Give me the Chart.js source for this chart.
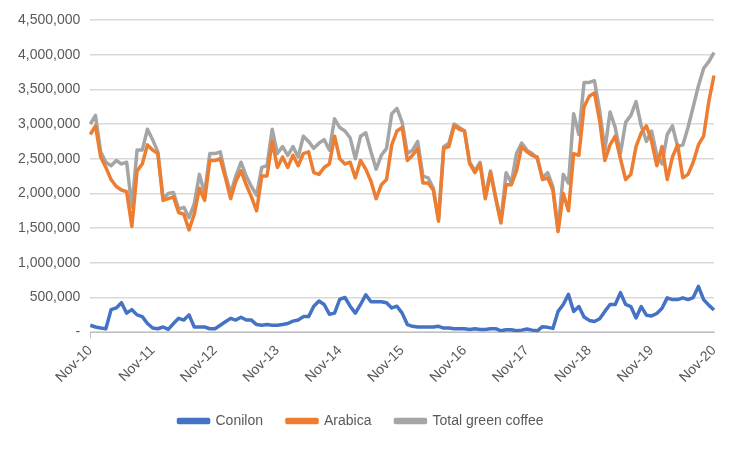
<!DOCTYPE html>
<html>
<head>
<meta charset="utf-8">
<script src="https://cdn.jsdelivr.net/npm/chart.js@4"></script>
<style>
  body { margin: 0; background: #fff; }
  #wrap { width: 752px; height: 452px; }
</style>
</head>
<body>
<div id="wrap"><canvas id="chart"></canvas></div>
<script>
// ### DATA (thousands of bags, monthly Nov-10 .. Nov-20) ###
const monthNames = ['Jan','Feb','Mar','Apr','May','Jun','Jul','Aug','Sep','Oct','Nov','Dec'];
const months = [];
for (let i = 0; i < 121; i++) {
    const m = (10 + i) % 12;
    const y = 10 + Math.floor((10 + i) / 12);
    months.push(monthNames[m] + '-' + y);
}

const conilon = [
    100, 75, 60, 50, 325, 350, 425, 275, 325, 250, 225, 125, 60, 50, 75, 40, 125, 200, 175, 250,
    75, 75, 75, 50, 50, 100, 150, 200, 175, 215, 175, 175, 110, 100, 110, 100, 100, 110, 125, 160,
    175, 225, 225, 375, 450, 400, 260, 275, 475, 500, 375, 275, 400, 540, 440, 440, 440, 425, 350, 375,
    275, 110, 85, 75, 75, 75, 75, 85, 60, 60, 50, 50, 50, 40, 50, 40, 40, 50, 50, 20,
    35, 35, 20, 30, 45, 30, 20, 80, 70, 55, 300, 400, 545, 300, 370, 220, 170, 155, 195, 300,
    400, 400, 570, 400, 370, 205, 370, 245, 235, 270, 345, 495, 470, 470, 495, 470, 500, 660, 470, 390,
    320
];

const arabica = [
    2850, 2975, 2525, 2375, 2200, 2100, 2050, 2025, 1525, 2325, 2425, 2700, 2625, 2575, 1900, 1925, 1950, 1725, 1700, 1475,
    1700, 2075, 1900, 2475, 2475, 2500, 2225, 1925, 2175, 2325, 2125, 1950, 1750, 2250, 2250, 2750, 2375, 2525, 2375, 2550,
    2400, 2575, 2600, 2300, 2275, 2375, 2425, 2825, 2500, 2425, 2450, 2225, 2475, 2350, 2175, 1925, 2125, 2200, 2700, 2900,
    2950, 2475, 2550, 2650, 2150, 2150, 2050, 1600, 2650, 2675, 2975, 2925, 2900, 2425, 2300, 2425, 1925, 2300, 1925, 1575,
    2125, 2125, 2325, 2675, 2600, 2550, 2525, 2200, 2225, 2050, 1450, 2000, 1750, 2575, 2550, 3250, 3400, 3450, 3050, 2475,
    2700, 2825, 2500, 2200, 2275, 2675, 2875, 2975, 2750, 2400, 2675, 2200, 2525, 2700, 2225, 2275, 2450, 2700, 2825, 3325,
    3700
];

const total = [
    3000, 3125, 2600, 2450, 2400, 2475, 2425, 2450, 1800, 2625, 2625, 2925, 2775, 2600, 1925, 2000, 2015, 1775, 1800, 1650,
    1850, 2275, 2000, 2575, 2575, 2600, 2275, 2000, 2250, 2450, 2250, 2100, 1975, 2375, 2400, 2925, 2575, 2675, 2550, 2675,
    2525, 2825, 2750, 2650, 2725, 2775, 2625, 3075, 2950, 2900, 2800, 2500, 2825, 2875, 2600, 2350, 2550, 2650, 3150, 3225,
    3025, 2575, 2625, 2750, 2250, 2225, 2075, 1625, 2675, 2725, 3000, 2950, 2900, 2450, 2325, 2450, 1950, 2325, 1950, 1600,
    2300, 2150, 2575, 2725, 2625, 2575, 2500, 2225, 2300, 2100, 1475, 2275, 2150, 3150, 2850, 3600, 3600, 3625, 3200, 2625,
    3175, 2950, 2575, 3025, 3125, 3325, 2975, 2750, 2900, 2550, 2425, 2850, 2975, 2675, 2700, 2950, 3250, 3550, 3800, 3900,
    4030
];

const yMax = 4500;
const yStep = 500;

// ### CHART ###
const font = { family: 'Liberation Sans, Arial, sans-serif', size: 14 };
const textColor = '#595959';

function series(label, values, color) {
    return {
        label: label,
        data: values.map(v => v * 1000),
        borderColor: color,
        backgroundColor: color,
        borderWidth: 3.5,
        pointRadius: 0,
        tension: 0,
        borderJoinStyle: 'round'
    };
}

new Chart(document.getElementById('chart'), {
    type: 'line',
    data: {
        labels: months,
        datasets: [
            series('Conilon', conilon, '#4472C4'),
            series('Arabica', arabica, '#ED7D31'),
            series('Total green coffee', total, '#A5A5A5')
        ]
    },
    options: {
        responsive: true,
        maintainAspectRatio: false,
        animation: false,
        layout: { padding: { left: 8, right: 38, top: 20, bottom: 14 } },
        plugins: {
            legend: {
                position: 'bottom',
                labels: {
                    font: font,
                    color: textColor,
                    boxWidth: 30,
                    boxHeight: 3,
                    padding: 24
                }
            },
            tooltip: { enabled: false }
        },
        scales: {
            x: {
                offset: false,
                grid: {
                    drawOnChartArea: false,
                    tickLength: 6,
                    color: ctx => (ctx.index % 12 === 0 ? '#BFBFBF' : 'rgba(0,0,0,0)')
                },
                border: { color: '#BFBFBF' },
                ticks: {
                    autoSkip: false,
                    maxRotation: 45,
                    minRotation: 45,
                    padding: 4,
                    font: font,
                    color: textColor,
                    callback: function (val, idx) {
                        return idx % 12 === 0 ? months[idx] : null;
                    }
                }
            },
            y: {
                min: 0,
                max: yMax * 1000,
                grid: { color: '#D9D9D9', lineWidth: 1.5, tickLength: 0 },
                border: { display: false },
                ticks: {
                    stepSize: yStep * 1000,
                    padding: 10,
                    font: font,
                    color: textColor,
                    callback: v => (v === 0 ? '-' : v.toLocaleString('en-US'))
                }
            }
        }
    }
});
</script>
</body>
</html>
